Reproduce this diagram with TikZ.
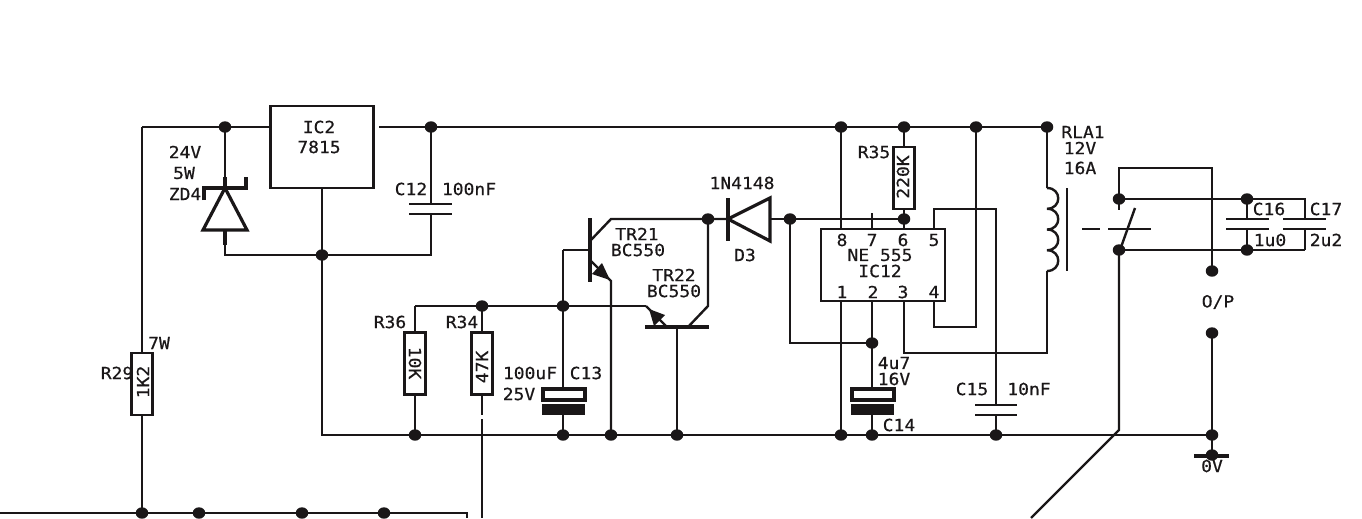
\documentclass[tikz,border=0pt]{standalone}
\usepackage{fontspec}
\setmainfont{DejaVu Sans Mono}[FakeBold=0.5,FakeStretch=1.08]
\usetikzlibrary{arrows.meta,shapes.geometric}
\tikzset{
  x=0.75pt,y=-0.75pt,
  wire/.style={line width=1.8pt,draw=ink,line join=miter},
  dotnode/.style={ellipse,fill=ink,inner sep=0pt,minimum width=9.4pt,minimum height=8.6pt},
  lab/.style={inner sep=0pt,text=ink,font=\fontsize{12.5}{12.5}\selectfont},
  resbox/.style={draw=ink,line width=1.8pt,fill=white,minimum width=15.5pt,minimum height=46.5pt,inner sep=0pt},
  icbox/.style={draw=ink,line width=1.9pt,inner sep=0pt},
  plate/.style={line width=1.8pt,draw=ink},
  thick wire/.style={line width=2.4pt,draw=ink},
}
\definecolor{ink}{HTML}{1A1718}
\begin{document}
\begin{tikzpicture}
\useasboundingbox (0,0) rectangle (1362,518);
% junction dots
\foreach \n/\px/\py in {
 t1/225/127,t2/431/127,t3/841/127,t4/904/127,t5/976/127,t6/1047/127,
 g1/322/255,
 a1/482/306,a2/563/306,
 r1/415/435,r2/563/435,r3/611/435,r4/677/435,r5/841/435,r6/872/435,r7/996/435,r8/1212/435,
 d1/708/219,d2/790/219,d3/904/219,
 c2/872/343,
 s1/1119/199,s2/1119/250,s3/1247/199,s4/1247/250,
 o1/1212/271,o2/1212/333,o3/1212/455,
 b1/142/513,b2/199/513,b3/302/513,b4/384/513}
 {\node[dotnode] (\n) at (\px,\py) {};}
% corners and free ends
\foreach \n/\px/\py in {
 tl/142/127,bl/0/513,br/467/513,brd/467/518,
 ctop/431/204,cbot/431/214,
 zt/225/188,zb/225/230,zl/204/188,zr/246/188,zlt/204/200,zrt/246/177,zc/225/255,zcr/431/255,
 gl/322/435,
 r36t/415/306,
 e21t/590/260,e21b/611/281,c21t/590/241,c21b/611/219,b21/590/250,b21l/563/250,
 e22a/646/306,e22b/667/327,c22a/708/306,c22b/688/327,b22/677/327,
 k/728/219,an/770/219,
 p8/841/229,p1/841/301,p7/872/229,p7t/872/213,p6/904/229,p5/934/229,p4/934/301,p3/904/301,p2/872/301,
 coilt/1047/188,coilb/1047/271,
 sw/1119/430,swd/1031/518,
 blt/1135/208,stub/1119/210,
 rel/1305/199,rel2/1305/250,
 loopa/1119/168,loopb/1212/168,
 gnd/1212/458}
 {\coordinate (\n) at (\px,\py);}
% boxes
\node[icbox,minimum width=77.25pt,minimum height=61.5pt] (ic2) at (322,147) {};
\node[icbox,minimum width=93pt,minimum height=54pt] (ic12) at (883,265) {};
\node[resbox] (r29) at (142,384) {};
\node[resbox] (r36) at (415,363.5) {};
\node[resbox] (r34) at (482,363.5) {};
\node[resbox] (r35) at (904,178) {};
% wires
\draw[wire] (tl) -- (ic2.west |- tl);
\draw[wire] (bl) -- (br) -- (brd);
\coordinate (ic2out) at (379,127);
\draw[wire] (ic2out) -- (t6.center);
\draw[wire] (tl) -- (r29.north);
\draw[wire] (r29.south) -- (b1.center);
\draw[wire] (t1.center) -- (zt);
\draw[wire] (zb) -- (zc) -- (zcr) -- (cbot);
\draw[wire] (t2.center) -- (ctop);
\draw[wire] (ic2.south) -- (gl) -- (r8.center);
\draw[wire] (r36t) -- (e22a);
\draw[wire] (r36t) -- (r36.north);
\draw[wire] (r36.south) -- (r1.center);
\draw[wire] (a1.center) -- (r34.north);
\draw[wire] (r34.south) -- (482,415);
\draw[wire] (482,419) -- (482,518);
\draw[wire] (a2.center) -- (563,388);
\draw[wire] (563,415) -- (r2.center);
\draw[wire] (b21l) -- (a2.center);
\draw[wire] (b21l) -- (b21);
\draw[wire] (c21t) -- (c21b) -- (d1.center) -- (k);
\draw[wire] (e21t) -- (e21b) -- (r3.center);
\draw[wire] (d1.center) -- (c22a) -- (c22b);
\draw[wire] (e22a) -- (e22b);
\draw[wire] (b22) -- (r4.center);
\draw[wire] (an) -- (d3.center);
\draw[wire] (d2.center) |- (c2.center);
\draw[wire] (t3.center) -- (p8);
\draw[wire] (p1) -- (r5.center);
\draw[wire] (p7t) -- (p7);
\draw[wire] (t4.center) -- (r35.north);
\draw[wire] (r35.south) -- (d3.center) -- (p6);
\draw[wire] (p5) -- (934,209) -- (996,209) -- (996,405);
\draw[wire] (996,415) -- (r7.center);
\draw[wire] (p4) -- (934,327) -- (976,327) -- (t5.center);
\draw[wire] (p3) -- (904,353) -- (1047,353) -- (coilb);
\draw[wire] (t6.center) -- (coilt);
\draw[wire] (p2) -- (c2.center) -- (872,388);
\draw[wire] (872,415) -- (r6.center);
\draw[wire] (s1.center) -- (rel) -- (1305,219);
\draw[wire] (rel2) -- (1305,229);
\draw[wire] (s2.center) -- (rel2);
\draw[wire] (s3.center) -- (1247,219);
\draw[wire] (s4.center) -- (1247,229);
\draw[wire] (s1.center) -- (stub);
\draw[wire] (s1.center) -- (loopa) -- (loopb) -- (o1.center);
\draw[wire] (s2.center) -- (sw) -- (swd);
\draw[wire] (o2.center) -- (r8.center) -- (gnd);
% zener
\draw[thick wire,line join=miter] (zt) -- (203,230) -- (247,230) -- cycle;
\draw[thick wire] (zlt) -- (zl) -- (zr) -- (zrt);
\draw[thick wire] (225,177) -- (zt);
\draw[thick wire] (zb) -- (225,245);
% caps
\draw[plate] (409,204) -- (452,204) (409,214) -- (452,214);
\draw[plate] (975,405) -- (1017,405) (975,415) -- (1017,415);
\draw[plate] (1226,219) -- (1269,219) (1226,229) -- (1269,229);
\draw[plate] (1283,219) -- (1326,219) (1283,229) -- (1326,229);
% electrolytics
\draw[thick wire] (543,389) rectangle (585,400);
\fill[ink] (542,404) rectangle (585,415);
\draw[thick wire] (852,389) rectangle (894,400);
\fill[ink] (851,404) rectangle (894,415);
% transistors
\draw[line width=2.4pt,draw=ink] (590,218) -- (590,282);
\draw[line width=2.4pt,draw=ink] (645,327) -- (709,327);
\fill[ink] (610,280) -- (592,274) -- (602,263) -- cycle;
\fill[ink] (649,309) -- (654,326) -- (665,315) -- cycle;
% diode
\draw[thick wire] (k) -- (an |- 0,198) -- (an |- 0,241) -- cycle;
\draw[thick wire] (728,198) -- (728,241);
% coil
\draw[wire] (coilt) .. controls (1062,188) and (1062,208.75) .. (1047,208.75)
 .. controls (1062,208.75) and (1062,229.5) .. (1047,229.5)
 .. controls (1062,229.5) and (1062,250.25) .. (1047,250.25)
 .. controls (1062,250.25) and (1062,271) .. (coilb);
\draw[wire] (1067,188) -- (1067,271);
% switch
\draw[wire] (blt) -- (1120,250);
\draw[wire] (1082,229) -- (1100,229) (1108,229) -- (1151,229);
% ground
\draw[thick wire] (1194,456) -- (1229,456);
% text
\foreach \px/\py/\t in {
 319/127/IC2,319/147/7815,185/152/24V,184/173/5W,185/194/ZD4,
 411/189/C12,469/189/100nF,
 637/234/TR21,638/250/BC550,674/275/TR22,674/291/BC550,
 742/183/1N4148,745/255/D3,874/152/R35,
 842/240/8,872/240/7,903/240/6,934/240/5,880/255/NE 555,880/271/IC12,
 842/292/1,873/292/2,903/292/3,934/292/4,
 1083/132/RLA1,1080/148/12V,1080/168/16A,
 1269/209/C16,1326/209/C17,1270/240/1u0,1326/240/2u2,
 390/322/R36,462/322/R34,117/373/R29,159/343/7W,
 530/373/100uF,586/373/C13,519/394/25V,
 894/363/4u7,894/379/16V,899/425/C14,972/389/C15,1029/389/10nF,1212/466/0V}
 {\node[lab] (txt\px x\py) at (\px,\py) {\t};}
\node[lab] (vop) at (1218,302) {O/P};
\node[lab,rotate=90] (v220) at (903,177) {220K};
\node[lab,rotate=-90] (v10) at (415,363) {10K};
\node[lab,rotate=90] (v47) at (482,367) {47K};
\node[lab,rotate=90] (v1k) at (143,382) {1K2};
\end{tikzpicture}
\end{document}
